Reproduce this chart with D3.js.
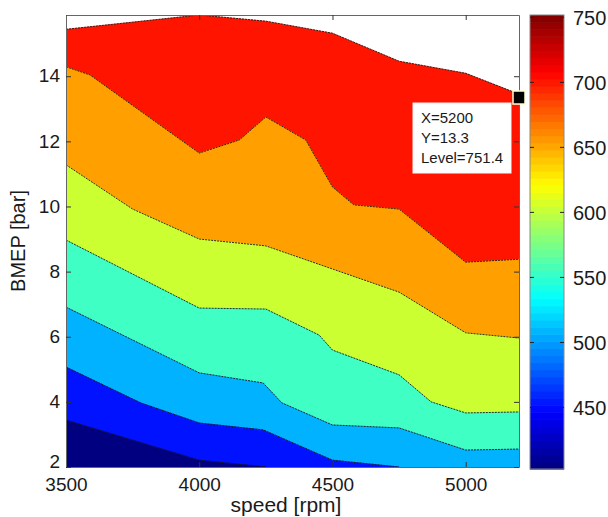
<!DOCTYPE html>
<html><head><meta charset="utf-8">
<script src="https://cdn.jsdelivr.net/npm/d3@7/dist/d3.min.js"></script>
<style>
body{margin:0;background:#fff}
text{font-family:"Liberation Sans",Arial,sans-serif;fill:#1a1a1a}
</style>
</head><body>
<svg id="c" width="608" height="517"></svg>
<script>
// ---------- data ----------
const levels = [450, 500, 550, 600, 650, 700];
// upper limit of the measured map (white above)
const envSpeed = [3500, 4000, 4250, 4500, 4750, 5000, 5200];
const envBmep  = [15.44, 15.88, 15.69, 15.32, 14.46, 14.09, 13.45];
// contour level 700
const c700Speed = [3500, 3590, 4000, 4150, 4250, 4400, 4500, 4580, 4750, 5000, 5200];
const c700Bmep  = [14.29, 14.04, 11.64, 12.04, 12.75, 12.04, 10.6, 10.05, 9.92, 8.29, 8.38];
// contour level 650
const c650Speed = [3500, 3750, 4000, 4250, 4750, 5000, 5200];
const c650Bmep  = [11.28, 9.92, 9.0, 8.79, 7.37, 6.12, 5.96];
// contour level 600
const c600Speed = [3500, 4000, 4250, 4450, 4500, 4750, 4870, 5000, 5200];
const c600Bmep  = [8.97, 6.88, 6.85, 6.05, 5.59, 4.83, 4.0, 3.66, 3.69];
// contour level 550
const c550Speed = [3500, 4000, 4240, 4310, 4500, 4750, 5000, 5200];
const c550Bmep  = [6.91, 4.89, 4.58, 3.97, 3.29, 3.2, 2.52, 2.55];
// contour level 500
const c500Speed = [3500, 3780, 4000, 4240, 4500, 4750];
const c500Bmep  = [5.07, 3.97, 3.35, 3.14, 2.21, 2.0];
// contour level 450
const c450Speed = [3500, 4000, 4250];
const c450Bmep  = [3.44, 2.21, 2.0];

const xTicks = [3500, 4000, 4500, 5000];
const yTicks = [2, 4, 6, 8, 10, 12, 14];
const cbTicks = [450, 500, 550, 600, 650, 700, 750];
const levelMin = 402.3, levelMax = 751.4;
const speedMin = 3500, speedMax = 5200, bmepMin = 2;
const tipSpeed = 5200, tipBmep = 13.3, tipLevel = 751.4;

// ---------- layout ----------
const svg = d3.select("#c");
const P = {l: 66, r: 519, t: 15, b: 467};
const CB = {l: 530, r: 564, t: 15, b: 469};

const x = d3.scaleLinear().domain([speedMin, speedMax]).range([P.l, P.r]);
const y = d3.scaleLinear().domain([bmepMin, d3.max(envBmep)]).range([P.b, P.t]);

const bandColors = ["#000080", "#0012ff", "#00b2ff", "#40ffc4", "#cbff32", "#ffa000", "#ff1400"];
const fillColor = d3.scaleThreshold().domain(levels).range(bandColors);

svg.append("defs").append("clipPath").attr("id", "plotclip")
  .append("rect").attr("x", P.l).attr("y", P.t).attr("width", P.r - P.l).attr("height", P.b - P.t);

const layers = [
  {s: envSpeed,  b: envBmep,  fill: fillColor(700)},
  {s: c700Speed, b: c700Bmep, fill: fillColor(650)},
  {s: c650Speed, b: c650Bmep, fill: fillColor(600)},
  {s: c600Speed, b: c600Bmep, fill: fillColor(550)},
  {s: c550Speed, b: c550Bmep, fill: fillColor(500)},
  {s: c500Speed, b: c500Bmep, fill: fillColor(450)},
  {s: c450Speed, b: c450Bmep, fill: fillColor(levelMin)}
];

const area = d3.area().x(d => x(d[0])).y0(y(bmepMin)).y1(d => y(d[1]));
const line = d3.line().x(d => x(d[0])).y(d => y(d[1]));

const g = svg.append("g").attr("clip-path", "url(#plotclip)");
layers.forEach(L => {
  const pts = L.s.map((s, i) => [s, L.b[i]]);
  g.append("path").attr("d", area(pts)).attr("fill", L.fill).attr("stroke", L.fill).attr("stroke-width", 0.5);
});
layers.forEach(L => {
  const pts = L.s.map((s, i) => [s, L.b[i]]);
  g.append("path").attr("d", line(pts)).attr("fill", "none")
    .attr("stroke", "#1a1a1a").attr("stroke-width", 0.9).attr("stroke-dasharray", "2,1");
});

// ---------- axes ----------
const fs = 19;
const xAxis = svg.append("g").attr("transform", `translate(0,${P.b})`)
  .call(d3.axisBottom(x).tickValues(xTicks).tickFormat(d3.format("d")).tickSizeInner(-5).tickSizeOuter(0).tickPadding(11));
const xTop = svg.append("g").attr("transform", `translate(0,${P.t})`)
  .call(d3.axisTop(x).tickValues(xTicks).tickFormat("").tickSizeInner(-5).tickSizeOuter(0));
const yAxis = svg.append("g").attr("transform", `translate(${P.l},0)`)
  .call(d3.axisLeft(y).tickValues(yTicks).tickSizeInner(-5).tickSizeOuter(0).tickPadding(6));
const yRight = svg.append("g").attr("transform", `translate(${P.r},0)`)
  .call(d3.axisRight(y).tickValues(yTicks).tickFormat("").tickSizeInner(-5).tickSizeOuter(0));
[xAxis, xTop, yAxis, yRight].forEach(a => {
  a.select(".domain").attr("stroke", "#666");
  a.selectAll(".tick line").attr("stroke", "#333");
  a.selectAll("text").attr("font-size", fs).attr("font-family", '"Liberation Sans",Arial,sans-serif').attr("fill", "#1a1a1a");
});
yAxis.selectAll("text").attr("dy", "0.3em");
// lowest y label sits a little higher, clear of the x labels
yAxis.selectAll(".tick text").filter(d => d === bmepMin).attr("dy", "0.02em");

svg.append("text").attr("x", 286).attr("y", 512).attr("text-anchor", "middle")
  .attr("font-size", 21).text("speed [rpm]");
svg.append("text").attr("transform", "translate(25,241) rotate(-90)").attr("text-anchor", "middle")
  .attr("font-size", 20).text("BMEP [bar]");

// ---------- data tip ----------
const mx = x(tipSpeed), my = y(tipBmep);
const bx = mx - 106, by = my + 4;
svg.append("rect").attr("x", bx).attr("y", by).attr("width", 98).attr("height", 70)
  .attr("fill", "#fff").attr("stroke", "#f4f4f4");
[`X=${tipSpeed}`, `Y=${tipBmep}`, `Level=${tipLevel}`].forEach((t, i) => {
  svg.append("text").attr("x", bx + 8).attr("y", by + 20 + i * 20).attr("font-size", 15).text(t);
});
svg.append("rect").attr("x", mx - 6).attr("y", my - 8).attr("width", 12).attr("height", 13)
  .attr("fill", "#000").attr("stroke", "#ffffd0").attr("stroke-width", 1.5);

// ---------- colorbar ----------
function jet(t) {
  const c = v => Math.max(0, Math.min(1, v));
  return d3.rgb(255 * c(1.5 - Math.abs(4 * t - 3)), 255 * c(1.5 - Math.abs(4 * t - 2)), 255 * c(1.5 - Math.abs(4 * t - 1)));
}
const cy = d3.scaleLinear().domain([levelMin, levelMax]).range([CB.b, CB.t]);
const nSteps = 64;
const steps = d3.range(nSteps);
const stepH = (CB.b - CB.t) / nSteps;
svg.append("g").selectAll("rect").data(steps).join("rect")
  .attr("x", CB.l).attr("width", CB.r - CB.l)
  .attr("y", i => CB.b - (i + 1) * stepH).attr("height", stepH + 0.6)
  .attr("fill", i => jet((i + 0.5) / nSteps));
svg.append("rect").attr("x", CB.l).attr("y", CB.t).attr("width", CB.r - CB.l).attr("height", CB.b - CB.t)
  .attr("fill", "none").attr("stroke", "#888");
const cbR = svg.append("g").attr("transform", `translate(${CB.r},0)`)
  .call(d3.axisRight(cy).tickValues(cbTicks).tickSizeInner(-4).tickSizeOuter(0).tickPadding(9));
const cbL = svg.append("g").attr("transform", `translate(${CB.l},0)`)
  .call(d3.axisLeft(cy).tickValues(cbTicks).tickFormat("").tickSizeInner(-4).tickSizeOuter(0));
[cbR, cbL].forEach(a => {
  a.select(".domain").remove();
  a.selectAll(".tick line").attr("stroke", "#222");
  a.selectAll("text").attr("font-size", 20).attr("font-family", '"Liberation Sans",Arial,sans-serif').attr("fill", "#1a1a1a").attr("dy", "0.4em");
});
</script>
</body></html>
